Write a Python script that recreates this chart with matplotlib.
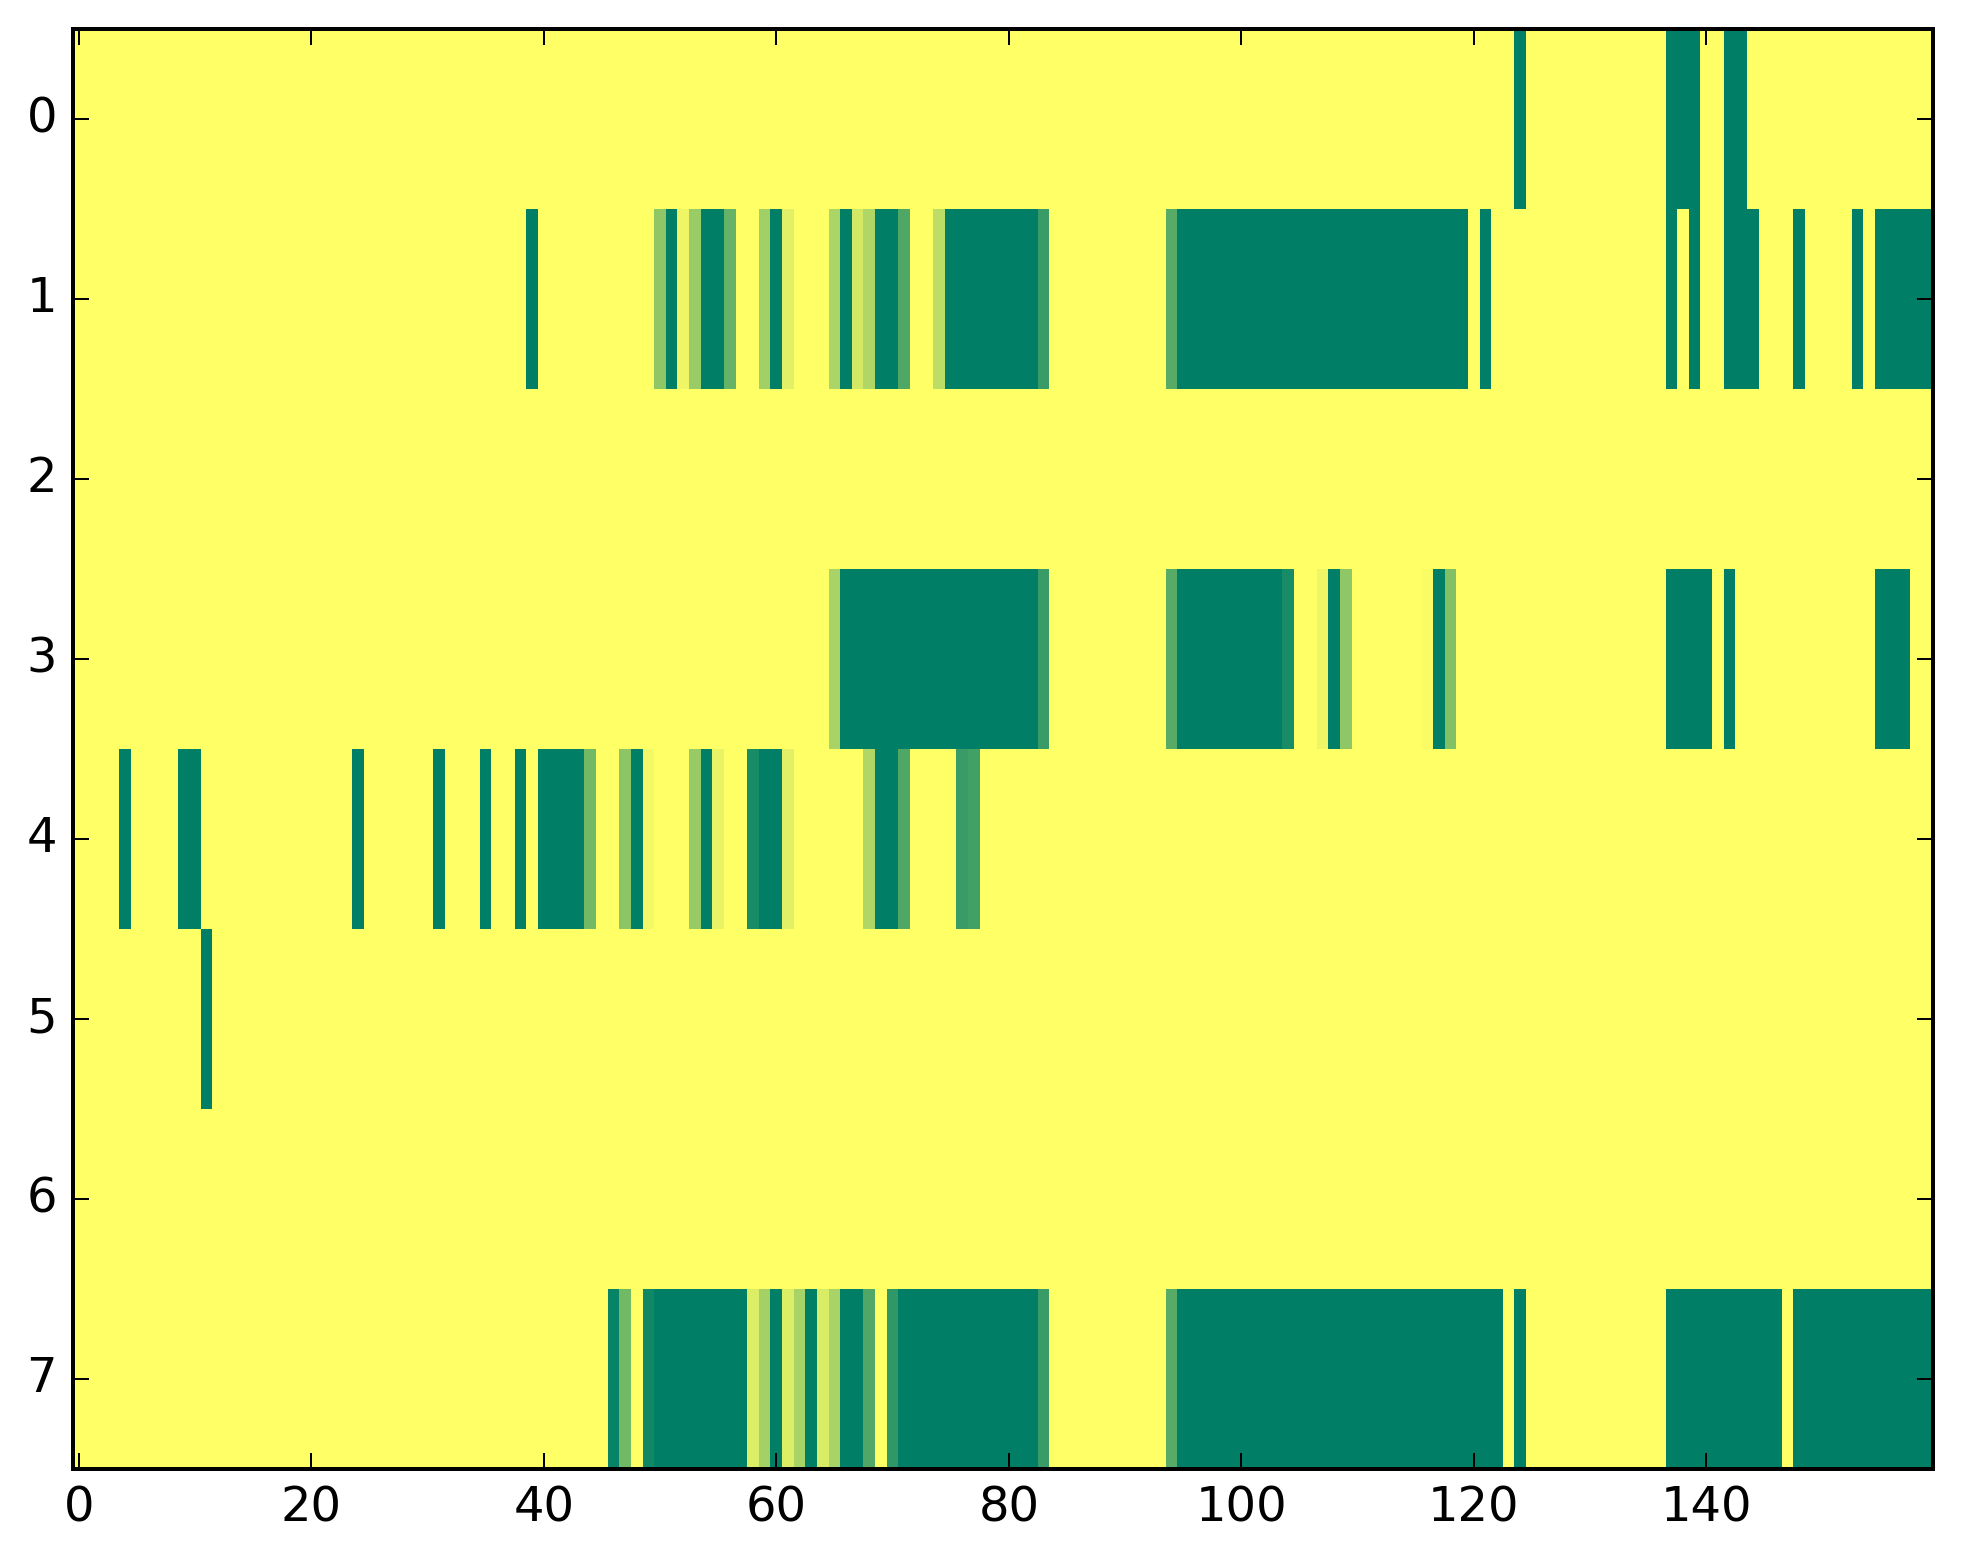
import numpy as np
import matplotlib
matplotlib.use("Agg")
import matplotlib.pyplot as plt

plt.style.use("classic")

n_rows = 8
n_cols = 160

# non-zero cells, per row: {column: value}
row0 = {124: 1, 137: 1, 138: 1, 139: 1, 142: 1, 143: 1}
row1 = {39: 1, 50: 0.44, 51: 1, 52: 0.07, 53: 0.4, 54: 1, 55: 1, 56: 0.6,
        59: 0.37, 60: 1, 61: 0.12, 65: 0.33, 66: 1, 67: 0.17, 68: 0.31,
        69: 1, 70: 1, 71: 0.69, 74: 0.26,
        75: 1, 76: 1, 77: 1, 78: 1, 79: 1, 80: 1, 81: 1, 82: 1, 83: 0.77,
        94: 0.66,
        95: 1, 96: 1, 97: 1, 98: 1, 99: 1, 100: 1, 101: 1, 102: 1, 103: 1,
        104: 1, 105: 1, 106: 1, 107: 1, 108: 1, 109: 1, 110: 1, 111: 1,
        112: 1, 113: 1, 114: 1, 115: 1, 116: 1, 117: 1, 118: 1, 119: 1,
        121: 1, 137: 1, 139: 1, 142: 1, 143: 1, 144: 1, 148: 1, 153: 1,
        155: 1, 156: 1, 157: 1, 158: 1, 159: 1}
row2 = {}
row3 = {65: 0.34,
        66: 1, 67: 1, 68: 1, 69: 1, 70: 1, 71: 1, 72: 1, 73: 1, 74: 1,
        75: 1, 76: 1, 77: 1, 78: 1, 79: 1, 80: 1, 81: 1, 82: 1, 83: 0.77,
        94: 0.66,
        95: 1, 96: 1, 97: 1, 98: 1, 99: 1, 100: 1, 101: 1, 102: 1, 103: 1,
        104: 0.9, 107: 0.07, 108: 1, 109: 0.44, 116: 0.02, 117: 1, 118: 0.49,
        137: 1, 138: 1, 139: 1, 140: 1, 142: 1, 155: 1, 156: 1, 157: 1}
row4 = {4: 1, 9: 1, 10: 1, 24: 1, 31: 1, 35: 1, 38: 1,
        40: 1, 41: 1, 42: 1, 43: 1, 44: 0.55, 47: 0.45, 48: 1, 49: 0.05,
        53: 0.41, 54: 1, 55: 0.09, 58: 0.9, 59: 1, 60: 1, 61: 0.12,
        68: 0.31, 69: 1, 70: 1, 71: 0.69, 76: 0.77, 77: 0.74}
row5 = {11: 1}
row6 = {}
row7 = {46: 0.97, 47: 0.55, 49: 0.93,
        50: 1, 51: 1, 52: 1, 53: 1, 54: 1, 55: 1, 56: 1, 57: 1,
        58: 0.14, 59: 0.36, 60: 1, 61: 0.14, 62: 0.34, 63: 1, 64: 0.15,
        65: 0.34, 66: 1, 67: 1, 68: 0.68, 70: 0.81,
        71: 1, 72: 1, 73: 1, 74: 1, 75: 1, 76: 1, 77: 1, 78: 1, 79: 1,
        80: 1, 81: 1, 82: 1, 83: 0.77,
        94: 0.66,
        95: 1, 96: 1, 97: 1, 98: 1, 99: 1, 100: 1, 101: 1, 102: 1, 103: 1,
        104: 1, 105: 1, 106: 1, 107: 1, 108: 1, 109: 1, 110: 1, 111: 1,
        112: 1, 113: 1, 114: 1, 115: 1, 116: 1, 117: 1, 118: 1, 119: 1,
        120: 1, 121: 1, 122: 1, 124: 1,
        137: 1, 138: 1, 139: 1, 140: 1, 141: 1, 142: 1, 143: 1, 144: 1,
        145: 1, 146: 1,
        148: 1, 149: 1, 150: 1, 151: 1, 152: 1, 153: 1, 154: 1, 155: 1,
        156: 1, 157: 1, 158: 1, 159: 1}

x_ticks = [0, 20, 40, 60, 80, 100, 120, 140]
y_ticks = [0, 1, 2, 3, 4, 5, 6, 7]

rows = [row0, row1, row2, row3, row4, row5, row6, row7]
data = np.zeros((n_rows, n_cols))
for i, r in enumerate(rows):
    for c, v in r.items():
        data[i, c] = v

dpi = 288
fig = plt.figure(figsize=(1963 / dpi, 1564 / dpi), dpi=dpi, facecolor="white")
ax = fig.add_axes([73 / 1963, 1 - 1469 / 1564, (1933 - 73) / 1963, (1469 - 29) / 1564])
ax.imshow(data, cmap="summer_r", vmin=0, vmax=1, aspect="auto", interpolation="nearest")
ax.set_xticks(x_ticks)
ax.set_yticks(y_ticks)
ax.set_xlim(-0.5, n_cols - 0.5)
ax.set_ylim(n_rows - 0.5, -0.5)

fig.savefig("out.png", dpi=dpi, facecolor="white")
